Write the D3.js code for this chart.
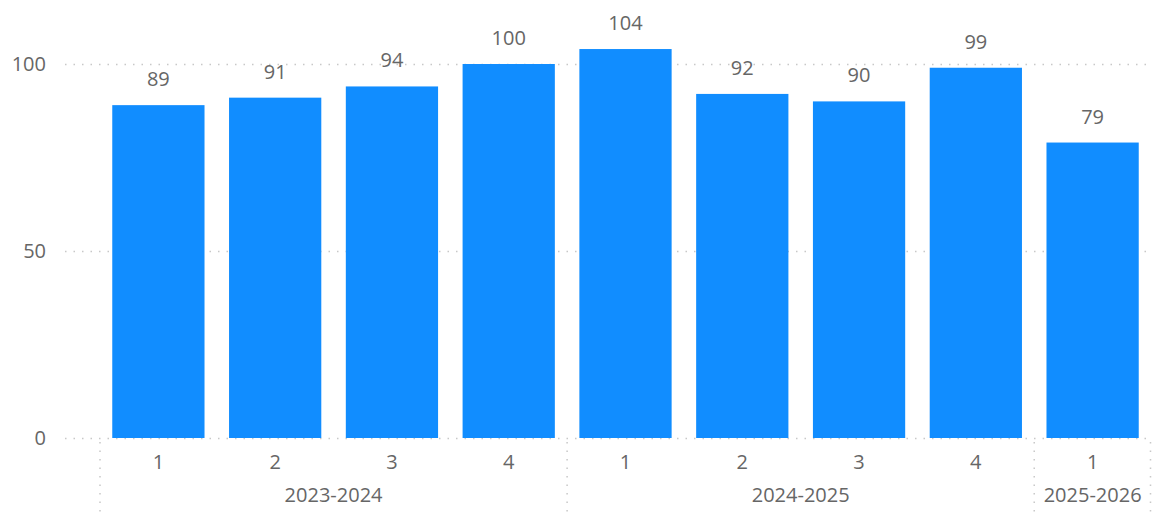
<!DOCTYPE html>
<html>
<head>
<meta charset="utf-8">
<script src="https://cdn.jsdelivr.net/npm/d3@7"></script>
<style>
  body { margin: 0; background: #fff; }
  text { font-family: "Open Sans", "Noto Sans", sans-serif; fill: #666; }
</style>
</head>
<body>
<div id="chart"></div>
<script>
// Chart data
const quarters = ["1", "2", "3", "4", "1", "2", "3", "4", "1"]
const years = ["2023-2024", "2023-2024", "2023-2024", "2023-2024", "2024-2025", "2024-2025", "2024-2025", "2024-2025", "2025-2026"]
const values = [89, 91, 94, 100, 104, 92, 90, 99, 79]
const yTicks = [0, 50, 100]

const width = 1152
const height = 512
const margin = { top: 0, right: 1, bottom: 74, left: 100 }
const fontSize = "20px"

const svg = d3.select("#chart").append("svg").attr("width", width).attr("height", height)

const ids = values.map((d, i) => i)

const x = d3.scaleBand().domain(ids).range([margin.left, width - margin.right]).paddingInner(0.21).paddingOuter(0.105)

const y = d3.scaleLinear().domain([0, 100]).range([438, 64])

// Gridlines
svg
  .append("g")
  .selectAll("line")
  .data(yTicks)
  .enter()
  .append("line")
  .attr("x1", 65)
  .attr("x2", width)
  .attr("y1", (d) => y(d) + 0.5)
  .attr("y2", (d) => y(d) + 0.5)
  .attr("stroke", "#c8c8c8")
  .attr("stroke-width", 1.5)
  .attr("stroke-dasharray", "1.5,7")

// Y axis labels
svg
  .append("g")
  .selectAll("text")
  .data(yTicks)
  .enter()
  .append("text")
  .attr("x", 46)
  .attr("y", (d) => y(d) + 7)
  .attr("text-anchor", "end")
  .style("font-size", fontSize)
  .text((d) => d)

// Bars
svg
  .append("g")
  .selectAll("rect")
  .data(values)
  .enter()
  .append("rect")
  .attr("x", (d, i) => x(i))
  .attr("width", x.bandwidth())
  .attr("y", (d) => y(d))
  .attr("height", (d) => y(0) - y(d))
  .attr("fill", "#118DFF")

// Value labels
svg
  .append("g")
  .selectAll("text")
  .data(values)
  .enter()
  .append("text")
  .attr("x", (d, i) => x(i) + x.bandwidth() / 2)
  .attr("y", (d) => y(d) - 19)
  .attr("text-anchor", "middle")
  .style("font-size", fontSize)
  .text((d) => d)

// Quarter labels
svg
  .append("g")
  .selectAll("text")
  .data(quarters)
  .enter()
  .append("text")
  .attr("x", (d, i) => x(i) + x.bandwidth() / 2)
  .attr("y", 469)
  .attr("text-anchor", "middle")
  .style("font-size", fontSize)
  .text((d) => d)

// Year groups
const groups = d3.groups(ids, (i) => years[i]).map(([name, idx]) => ({
  name,
  start: x(idx[0]) - (x.step() * x.paddingInner()) / 2,
  end: x(idx[idx.length - 1]) + x.bandwidth() + (x.step() * x.paddingInner()) / 2,
}))

const bounds = [groups[0].start].concat(groups.map((g) => g.end))

svg
  .append("g")
  .selectAll("line")
  .data(bounds)
  .enter()
  .append("line")
  .attr("x1", (d) => Math.min(d, width - 1.5))
  .attr("x2", (d) => Math.min(d, width - 1.5))
  .attr("y1", 442)
  .attr("y2", height)
  .attr("stroke", "#c8c8c8")
  .attr("stroke-width", 1.5)
  .attr("stroke-dasharray", "1.5,7")

svg
  .append("g")
  .selectAll("text")
  .data(groups)
  .enter()
  .append("text")
  .attr("x", (d) => (d.start + d.end) / 2)
  .attr("y", 502)
  .attr("text-anchor", "middle")
  .style("font-size", fontSize)
  .text((d) => d.name)
</script>
</body>
</html>
